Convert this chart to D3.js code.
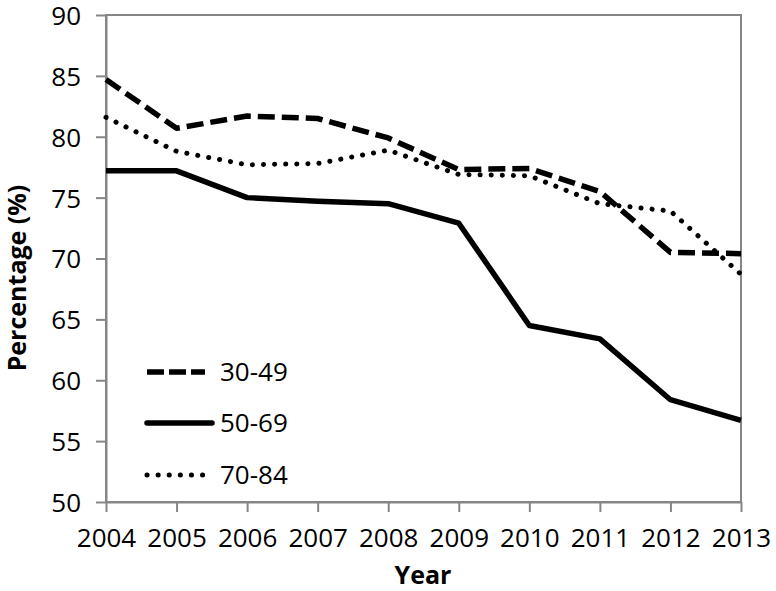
<!DOCTYPE html>
<html><head><meta charset="utf-8">
<script src="https://cdn.jsdelivr.net/npm/d3@7"></script>
<style>body{margin:0;background:#fff}svg{display:block}</style>
</head><body>
<script>
const years = [2004,2005,2006,2007,2008,2009,2010,2011,2012,2013];
const s3049 = [84.7,80.7,81.7,81.5,79.9,77.3,77.4,75.5,70.5,70.4];
const s5069 = [77.2,77.2,75.0,74.7,74.5,72.9,64.5,63.4,58.4,56.7];
const s7084 = [81.6,78.8,77.7,77.8,78.9,76.9,76.8,74.5,73.9,68.7];
const yTicks = [50,55,60,65,70,75,80,85,90];
const seriesNames = ["30-49","50-69","70-84"];

const W=776,H=591;
const m={l:106,r:35,t:15,b:89};
const svg=d3.select("body").append("svg").attr("width",W).attr("height",H);
const x=d3.scaleLinear().domain([2004,2013]).range([m.l,W-m.r]);
const y=d3.scaleLinear().domain([50,90]).range([H-m.b,m.t]);
const font="'Open Sans', sans-serif";
const axisColor="#868686";
const fs=26;

// frame
svg.append("rect").attr("x",x(2004)).attr("y",y(90)).attr("width",x(2013)-x(2004)).attr("height",y(50)-y(90))
  .attr("fill","none").attr("stroke",axisColor).attr("stroke-width",2);

const gx=svg.append("g").attr("transform",`translate(0,${y(50)})`)
  .call(d3.axisBottom(x).tickValues(years).tickFormat(d3.format("d")).tickSize(10).tickSizeOuter(0));
const gy=svg.append("g").attr("transform",`translate(${x(2004)},0)`)
  .call(d3.axisLeft(y).tickValues(yTicks).tickSize(10).tickSizeOuter(0));
[gx,gy].forEach(g=>{
  g.select(".domain").attr("stroke",axisColor).attr("stroke-width",2);
  g.selectAll(".tick line").attr("stroke",axisColor).attr("stroke-width",2);
  g.selectAll(".tick text").attr("fill","#000").attr("font-family",font).attr("font-size",fs);
});
gx.selectAll(".tick text").attr("dy",null).attr("y",45);
gy.selectAll(".tick text").attr("x",-25).attr("dy","0.36em");

const line=d3.line().x((d,i)=>x(years[i])).y(d=>y(d));
const styles=[
  {data:s3049,dash:"17,7",cap:"butt",w:5.5},
  {data:s5069,dash:null,cap:"butt",w:5.5},
  {data:s7084,dash:"0.1,11",cap:"round",w:5}
];
styles.forEach(s=>{
  svg.append("path").datum(s.data).attr("d",line).attr("fill","none").attr("stroke","#000")
    .attr("stroke-width",s.w).attr("stroke-linecap",s.cap).attr("stroke-linejoin","round")
    .attr("stroke-dasharray",s.dash);
});

// legend
const legY=[372,423,475];
styles.forEach((s,i)=>{
  svg.append("line").attr("x1",147).attr("x2",i==1?212:205).attr("y1",legY[i]).attr("y2",legY[i])
    .attr("stroke","#000").attr("stroke-width",s.w).attr("stroke-linecap",i==0?"butt":"round")
    .attr("stroke-dasharray",i==0?"17,5":s.dash);
  svg.append("text").attr("x",220).attr("y",legY[i]).attr("dy","0.36em").attr("font-family",font)
    .attr("font-size",fs).text(seriesNames[i]);
});

svg.append("text").attr("x",423).attr("y",584).attr("text-anchor","middle")
  .attr("font-family",font).attr("font-weight","bold").attr("font-size",25).text("Year");
svg.append("text").attr("transform",`translate(26,278) rotate(-90)`).attr("text-anchor","middle")
  .attr("font-family",font).attr("font-weight","bold").attr("font-size",25).text("Percentage (%)");
</script>
</body></html>
